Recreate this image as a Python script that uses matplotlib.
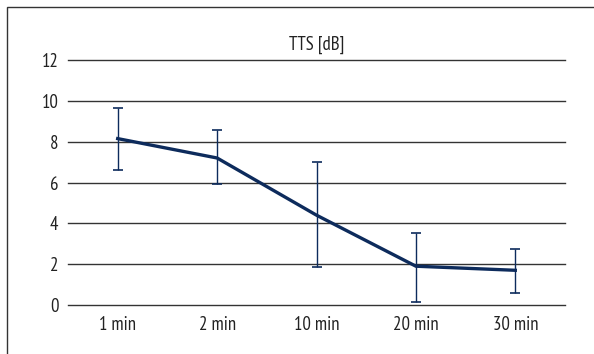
import matplotlib
matplotlib.use("Agg")
import matplotlib.pyplot as plt
from matplotlib.patches import Rectangle

categories = ["1 min", "2 min", "10 min", "20 min", "30 min"]
tts_mean = [8.15, 7.2, 4.4, 1.9, 1.7]
err_upper = [9.65, 8.58, 7.0, 3.52, 2.75]
err_lower = [6.62, 5.95, 1.86, 0.15, 0.57]
y_ticks = [0, 2, 4, 6, 8, 10, 12]

plt.rcParams["font.family"] = ["PT Sans Narrow", "DejaVu Sans"]

fig = plt.figure(figsize=(5.94, 3.54), dpi=100)
fig.patch.set_facecolor("white")

# outer frame (left and top edges visible)
fig.patches.append(Rectangle((7 / 594, -0.05), 1.2, 1 - 7 / 354 + 0.05,
                             transform=fig.transFigure, fill=False,
                             edgecolor="#333333", linewidth=1.0))

ax = fig.add_axes([68 / 594, 1 - 305 / 354, (565 - 68) / 594, (305 - 60) / 354])
x = list(range(len(categories)))
yerr = [[m - lo for m, lo in zip(tts_mean, err_lower)],
        [hi - m for m, hi in zip(tts_mean, err_upper)]]

for v in y_ticks:
    ax.axhline(v, color="#333333", linewidth=1.0, zorder=1, clip_on=False)

ax.plot(x, tts_mean, color="#0d2b5c", linewidth=2.4, zorder=3)
ax.errorbar(x, tts_mean, yerr=yerr, fmt="none", ecolor="#0d2b5c",
            elinewidth=1.0, capsize=3.5, capthick=1.2, zorder=4)

ax.set_xlim(-0.5, len(categories) - 0.5)
ax.set_ylim(0, 12)
ax.set_yticks(y_ticks)
ax.set_yticklabels([str(v) for v in y_ticks])
ax.set_xticks(x)
ax.set_xticklabels(categories)
for s in ax.spines.values():
    s.set_visible(False)
ax.tick_params(axis="both", length=0, labelsize=13.5, colors="#222222")
ax.tick_params(axis="y", pad=7)
ax.tick_params(axis="x", pad=8)
ax.set_title("TTS [dB]", fontsize=13.5, color="#222222", pad=7)

fig.savefig("out.png", dpi=100, facecolor="white")
